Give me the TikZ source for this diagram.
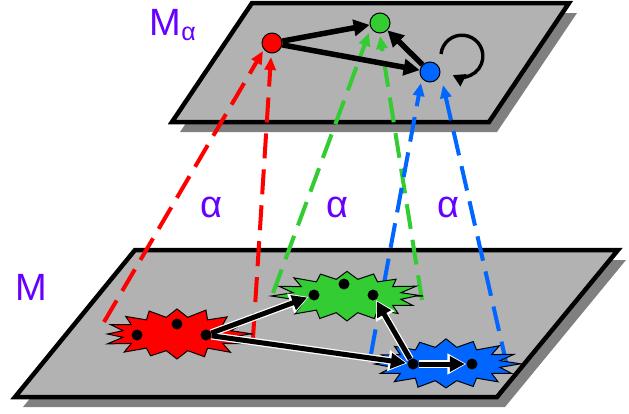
\documentclass[tikz,border=0pt]{standalone}
\usepackage{fontspec}
\setmainfont{Liberation Sans}
\usetikzlibrary{arrows.meta}
\definecolor{pur}{RGB}{102,0,255}
\definecolor{myred}{RGB}{255,0,0}
\definecolor{mygreen}{RGB}{51,204,51}
\definecolor{myblue}{RGB}{0,102,255}
\definecolor{planegray}{RGB}{178,178,178}
\definecolor{shadowgray}{RGB}{128,128,128}
% spiky blob: #1 centre x, #2 centre y, #3 colour, #4 seed
\newcommand\spikyblob[4]{%
  \pgfmathsetseed{#4}%
  \draw[draw=black,line width=1pt,fill=#3,line join=miter]
    ([shift={(#1,#2)}]0:76pt and 26pt)
    \foreach \k [evaluate=\k as \aa using \k*360/16,
                 evaluate=\k as \ab using \k*360/16-11.25,
                 evaluate=\k as \ff using 0.9+0.1*rnd] in {1,...,16}
      { -- ([shift={(#1,#2)}]\ab:55pt and 17pt)
        -- ([shift={(#1,#2)}]\aa:{76*\ff pt} and {26*\ff pt}) }
    -- cycle;}
\begin{document}
\begin{tikzpicture}[x=1pt,y=-1pt,
  planebox/.style={draw=black,line width=4.5pt,fill=planegray,line join=miter},
  shadowbox/.style={fill=shadowgray},
  vert/.style={circle,draw=black,line width=1pt,minimum size=20pt,inner sep=0pt},
  dot/.style={circle,fill=black,minimum size=11pt,inner sep=0pt},
  proj/.style={line width=4pt,dash pattern=on 25pt off 11pt,-{Triangle[length=13pt,width=11pt]}},
  toparrow/.style={line width=5.5pt,black,-{Triangle[length=16pt,width=16pt]}},
  botwhite/.style={line width=7.5pt,white,-{Triangle[length=19pt,width=20pt]}},
  botblack/.style={line width=5pt,black,-{Triangle[length=15pt,width=15pt]}},
  lbl/.style={text=pur,font=\fontsize{38}{38}\selectfont,inner sep=0pt}
]
\useasboundingbox (0,0) rectangle (629,413);
% top plane
\fill[shadowbox] (260,13) -- (577,13) -- (497,132) -- (180,132) -- cycle;
\draw[planebox] (252,3) -- (569,3) -- (489,122) -- (172,122) -- cycle;
% bottom plane
\fill[shadowbox] (143,260) -- (626,260) -- (505,407) -- (23,407) -- cycle;
\draw[planebox] (135,250) -- (618,250) -- (497,397) -- (15,397) -- cycle;
% labels
\node[lbl] (lma) at (173,25) {M\textsubscript{\fontsize{25}{25}\selectfont α}};
\node[lbl] (lm) at (31,287) {M};
\node[lbl] (a1) at (211,207) {α};
\node[lbl] (a2) at (337,207) {α};
\node[lbl] (a3) at (448,207) {α};
% top vertices
\node[vert,fill=myred] (r) at (272,43) {};
\node[vert,fill=mygreen] (g) at (380,23) {};
\node[vert,fill=myblue] (b) at (430,72) {};
% anchor coordinates on blobs
\coordinate (r1) at (104,322);
\coordinate (r2) at (253,338);
\coordinate (g1) at (273,293);
\coordinate (g2) at (422,300);
\coordinate (b1) at (371,354);
\coordinate (b2) at (507,366);
% projection lines
\draw[proj,myred] (r1) -- ([shift={(-9,8)}]r.center);
\draw[proj,myred] (r2) -- ([shift={(-1,14)}]r.center);
\draw[proj,mygreen] (g1) -- ([shift={(-11,10)}]g.center);
\draw[proj,mygreen] (g2) -- ([shift={(0,13)}]g.center);
\draw[proj,myblue] (b1) -- ([shift={(-9,11)}]b.center);
\draw[proj,myblue] (b2) -- ([shift={(13,13)}]b.center);
% blobs
\spikyblob{177}{334}{myred}{3}
\spikyblob{347}{296}{mygreen}{7}
\spikyblob{446}{364}{myblue}{11}
% dots
\node[dot] (rd1) at (137,335) {};
\node[dot] (rd2) at (177,324) {};
\node[dot] (rd3) at (206,335) {};
\node[dot] (gd1) at (314,295) {};
\node[dot] (gd2) at (344,284) {};
\node[dot] (gd3) at (373,295) {};
\node[dot] (bd1) at (413,364) {};
\node[dot] (bd2) at (472,364) {};
% top arrows
\draw[toparrow] (r) -- (g);
\draw[toparrow] (r) -- (b);
\draw[toparrow] (b) -- (g);
\draw[line width=3.4pt,-{Triangle[length=12pt,width=13pt]}] ([shift={(11,-18)}]b.center) arc[start angle=174,end angle=-116,radius=21pt];
% bottom arrows
\foreach \s/\t in {rd3/gd1,rd3/bd1,bd1/gd3,bd1/bd2}{
  \draw[botwhite] (\s) -- (\t);
}
\foreach \s/\t in {rd3/gd1,rd3/bd1,bd1/gd3,bd1/bd2}{
  \draw[botblack,shorten >=1.5pt] (\s) -- (\t);
}
\end{tikzpicture}
\end{document}
